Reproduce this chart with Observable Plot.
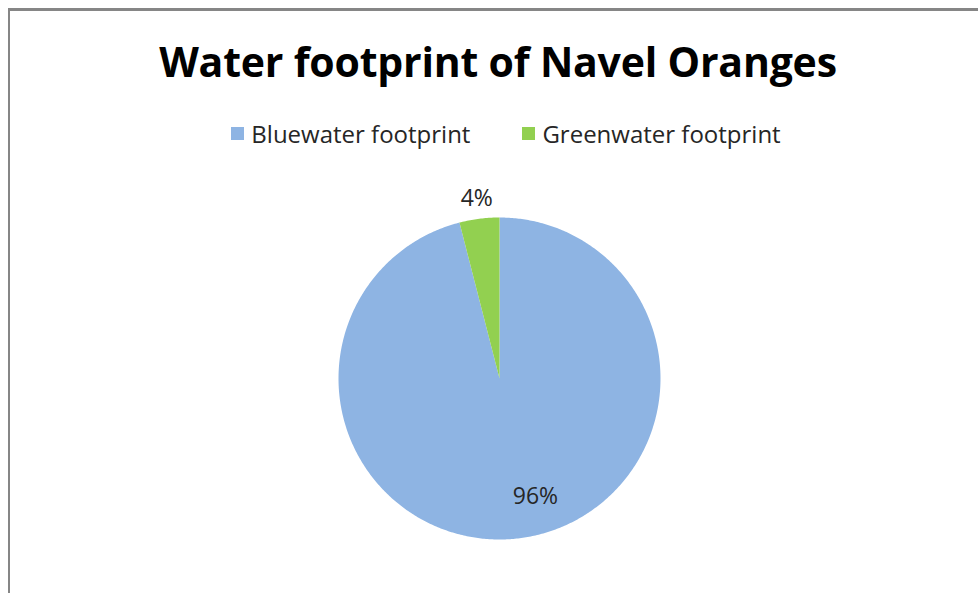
<!DOCTYPE html>
<html>
<head>
<meta charset="utf-8">
<script src="https://cdn.jsdelivr.net/npm/d3@7"></script>
<script src="https://cdn.jsdelivr.net/npm/@observablehq/plot@0.6"></script>
<style>
  html, body { margin: 0; padding: 0; background: #fff; }
  body { width: 978px; height: 593px; position: relative; overflow: hidden; font-family: "Open Sans", Lato, sans-serif; }
  #frame { position: absolute; left: 8px; top: 8px; width: 970px; height: 585px; box-sizing: border-box;
           border-left: 2px solid #868686; border-top: 3px solid #868686; }
  #title { position: absolute; left: 9px; top: 0; width: 978px; height: 100px; text-align: center;
           font-weight: 700; font-size: 41px; line-height: 122px; color: #000; letter-spacing: -0.2px; }
  #legend { position: absolute; left: 0; top: 100px; width: 978px; height: 66px; display: flex; justify-content: center;
            align-items: center; gap: 52px; font-size: 24px; color: #262626; padding-left: 34px; box-sizing: border-box; }
  .item { display: flex; align-items: center; gap: 7px; }
  .sw { width: 13px; height: 13px; display: inline-block; }
  #chart { position: absolute; left: 0; top: 160px; }
</style>
</head>
<body>
<div id="frame"></div>
<div id="title">Water footprint of Navel Oranges</div>
<div id="legend"></div>
<div id="chart"></div>
<script>
const categories = ["Bluewater footprint", "Greenwater footprint"];
const values = [96, 4];
const labels = ["96%", "4%"];
const colors = ["#8EB4E3", "#92D050"];

const data = categories.map((name, i) => ({name, value: values[i], label: labels[i]}));
const arcs = d3.pie().sort(null).value(d => d.value)(data);

// polygon points on unit circle (angle from 12 o'clock, clockwise)
const points = [];
for (const a of arcs) {
  const n = Math.max(2, Math.ceil((a.endAngle - a.startAngle) / 0.01));
  points.push({name: a.data.name, x: 0, y: 0});
  for (let k = 0; k <= n; k++) {
    const t = a.startAngle + (a.endAngle - a.startAngle) * k / n;
    points.push({name: a.data.name, x: Math.sin(t), y: -Math.cos(t)});
  }
  points.push({name: a.data.name, x: 0, y: 0});
}

const labelPos = arcs.map(a => {
  const m = (a.startAngle + a.endAngle) / 2;
  const inside = a.data.value > 50;
  const r = inside ? 0.74 : 1.125;
  return {label: a.data.label, x: Math.sin(m) * r, y: -Math.cos(m) * r, inside};
});

// legend
const legend = document.getElementById("legend");
categories.forEach((c, i) => {
  const it = document.createElement("div");
  it.className = "item";
  it.innerHTML = `<span class="sw" style="background:${colors[i]}"></span><span>${c}</span>`;
  legend.appendChild(it);
});

const cx = 499, cy = 218, R = 161;
const chart = Plot.plot({
  width: 978,
  height: 433,
  margin: 0,
  x: {domain: [-1, 1], range: [cx - R, cx + R], axis: null},
  y: {domain: [-1, 1], range: [cy - R, cy + R], axis: null},
  color: {domain: categories, range: colors},
  marks: [
    Plot.line(points, {x: "x", y: "y", z: "name", fill: "name", stroke: "none", curve: "linear"}),
    Plot.text(labelPos.filter(d => d.inside), {x: "x", y: "y", text: "label", dx: 21, fontSize: 23, fill: "#262626", fontFamily: "'Open Sans', sans-serif"}),
    Plot.text(labelPos.filter(d => !d.inside), {x: "x", y: "y", text: "label", fontSize: 23, fill: "#262626", fontFamily: "'Open Sans', sans-serif"})
  ]
});
document.getElementById("chart").appendChild(chart);
</script>
</body>
</html>
